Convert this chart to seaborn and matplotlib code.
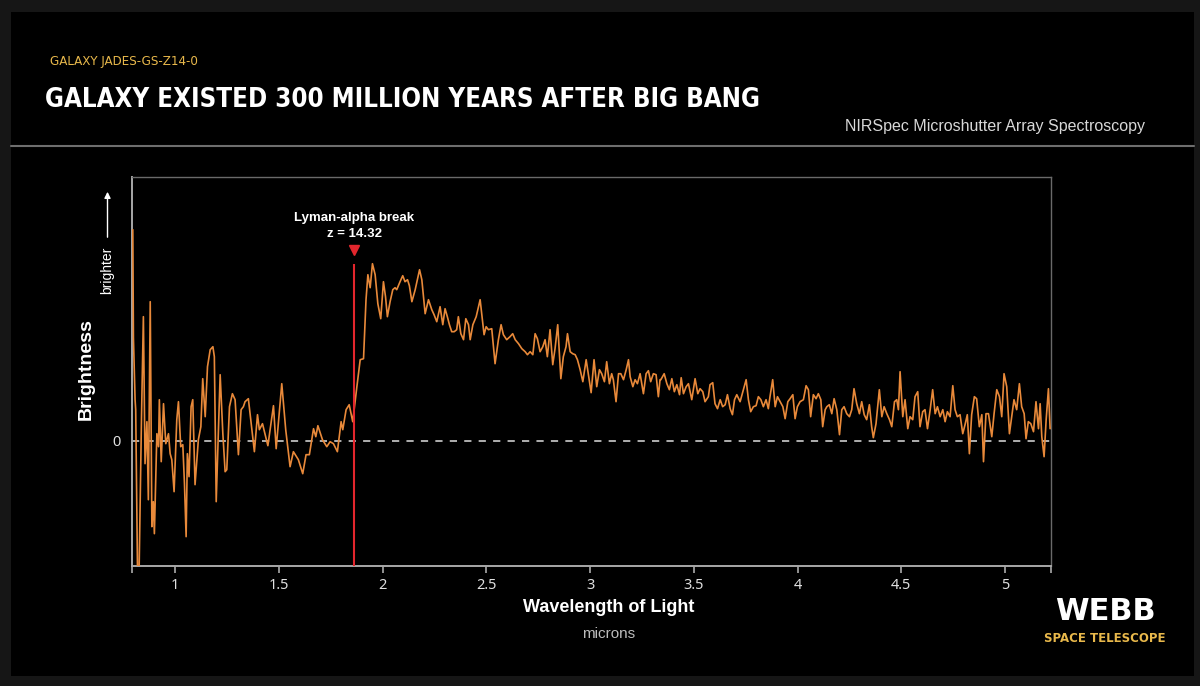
import matplotlib
matplotlib.use("Agg")
import matplotlib.pyplot as plt
from matplotlib.patches import Rectangle
import seaborn as sns

# ---------------------------------------------------
# Data (wavelength in microns, brightness in arbitrary units)
# ---------------------------------------------------
wavelength = [
    0.796, 0.799, 0.807, 0.810, 0.819, 0.826, 0.838, 0.847, 0.855, 0.864,
    0.871, 0.880, 0.888, 0.895, 0.900, 0.912, 0.920, 0.924, 0.933, 0.944,
    0.955, 0.968, 0.976, 0.984, 0.995, 1.008, 1.016, 1.027, 1.037, 1.045,
    1.053, 1.059, 1.067, 1.077, 1.085, 1.096, 1.112, 1.124, 1.133, 1.145,
    1.156, 1.169, 1.182, 1.189, 1.198, 1.217, 1.230, 1.241, 1.249, 1.262,
    1.276, 1.289, 1.305, 1.318, 1.329, 1.337, 1.353, 1.382, 1.397, 1.406,
    1.421, 1.447, 1.474, 1.487, 1.514, 1.533, 1.554, 1.570, 1.594, 1.615,
    1.631, 1.647, 1.667, 1.678, 1.688, 1.710, 1.731, 1.747, 1.763, 1.782,
    1.800, 1.808, 1.824, 1.839, 1.856, 1.876, 1.892, 1.908, 1.920, 1.929,
    1.940, 1.951, 1.964, 1.977, 1.991, 2.004, 2.014, 2.023, 2.036, 2.049,
    2.060, 2.068, 2.084, 2.097, 2.108, 2.120, 2.129, 2.141, 2.157, 2.178,
    2.189, 2.205, 2.221, 2.237, 2.248, 2.261, 2.277, 2.290, 2.301, 2.312,
    2.322, 2.333, 2.345, 2.357, 2.365, 2.377, 2.390, 2.401, 2.414, 2.422,
    2.435, 2.451, 2.470, 2.481, 2.489, 2.499, 2.510, 2.526, 2.542, 2.558,
    2.571, 2.582, 2.598, 2.614, 2.627, 2.639, 2.655, 2.671, 2.687, 2.698,
    2.711, 2.724, 2.735, 2.746, 2.759, 2.772, 2.783, 2.794, 2.807, 2.820,
    2.831, 2.844, 2.859, 2.871, 2.884, 2.891, 2.904, 2.916, 2.928, 2.939,
    2.952, 2.965, 2.981, 2.992, 3.005, 3.019, 3.032, 3.045, 3.056, 3.069,
    3.080, 3.093, 3.104, 3.112, 3.125, 3.137, 3.148, 3.161, 3.174, 3.185,
    3.193, 3.206, 3.217, 3.228, 3.241, 3.257, 3.270, 3.281, 3.292, 3.305,
    3.318, 3.329, 3.337, 3.341, 3.357, 3.370, 3.382, 3.394, 3.406, 3.418,
    3.431, 3.439, 3.450, 3.463, 3.474, 3.490, 3.506, 3.519, 3.530, 3.543,
    3.554, 3.570, 3.578, 3.591, 3.602, 3.614, 3.627, 3.639, 3.651, 3.662,
    3.675, 3.686, 3.696, 3.707, 3.723, 3.739, 3.752, 3.763, 3.774, 3.787,
    3.800, 3.811, 3.823, 3.835, 3.848, 3.859, 3.867, 3.880, 3.892, 3.903,
    3.916, 3.929, 3.940, 3.953, 3.964, 3.977, 3.988, 3.999, 4.012, 4.028,
    4.041, 4.052, 4.063, 4.076, 4.089, 4.100, 4.112, 4.121, 4.133, 4.141,
    4.153, 4.165, 4.176, 4.189, 4.202, 4.213, 4.224, 4.237, 4.250, 4.261,
    4.272, 4.285, 4.298, 4.309, 4.321, 4.333, 4.346, 4.357, 4.365, 4.378,
    4.394, 4.406, 4.417, 4.430, 4.443, 4.454, 4.467, 4.478, 4.486, 4.494,
    4.507, 4.518, 4.531, 4.542, 4.555, 4.566, 4.579, 4.590, 4.603, 4.614,
    4.626, 4.639, 4.651, 4.663, 4.674, 4.687, 4.700, 4.711, 4.722, 4.735,
    4.748, 4.759, 4.770, 4.783, 4.796, 4.807, 4.818, 4.828, 4.839, 4.852,
    4.863, 4.876, 4.888, 4.896, 4.908, 4.920, 4.936, 4.947, 4.960, 4.973,
    4.984, 4.995, 5.008, 5.021, 5.032, 5.043, 5.056, 5.069, 5.080, 5.092,
    5.101, 5.112, 5.124, 5.137, 5.149, 5.161, 5.169, 5.177, 5.188, 5.198,
    5.209, 5.217,
]
brightness = [
    2.11, 1.03, 0.41, 0.31, -1.35, -1.35, 0.24, 1.24, -0.23, 0.19,
    -0.59, 1.39, -0.86, -0.61, -0.93, 0.07, -0.06, 0.41, -0.21, 0.37,
    -0.03, 0.07, -0.13, -0.19, -0.51, 0.21, 0.39, -0.06, -0.04, -0.43,
    -0.96, -0.13, -0.36, 0.34, 0.41, -0.44, 0.01, 0.14, 0.62, 0.24,
    0.74, 0.91, 0.94, 0.84, -0.61, 0.66, 0.07, -0.31, -0.29, 0.34,
    0.47, 0.41, -0.14, 0.31, 0.34, 0.39, 0.42, -0.11, 0.26, 0.11,
    0.17, -0.05, 0.35, -0.08, 0.57, 0.11, -0.26, -0.11, -0.19, -0.33,
    -0.14, -0.14, 0.12, 0.04, 0.15, 0.01, -0.06, -0.01, -0.03, -0.11,
    0.19, 0.11, 0.31, 0.36, 0.19, 0.54, 0.81, 0.82, 1.41, 1.66,
    1.53, 1.77, 1.66, 1.37, 1.22, 1.59, 1.44, 1.24, 1.39, 1.51,
    1.53, 1.51, 1.59, 1.65, 1.59, 1.61, 1.55, 1.39, 1.51, 1.71,
    1.61, 1.27, 1.41, 1.31, 1.26, 1.19, 1.34, 1.16, 1.32, 1.24,
    1.16, 1.09, 1.09, 1.11, 1.24, 1.07, 1.01, 1.22, 1.16, 1.01,
    1.16, 1.24, 1.41, 1.21, 1.06, 1.14, 1.11, 1.12, 0.77, 1.01,
    1.16, 1.06, 1.01, 1.04, 1.07, 1.01, 0.97, 0.92, 0.89, 0.86,
    0.89, 0.86, 1.07, 1.02, 0.89, 0.94, 1.01, 0.84, 1.11, 0.76,
    0.92, 1.16, 0.62, 0.84, 0.94, 1.07, 0.89, 0.87, 0.86, 0.81,
    0.71, 0.59, 0.81, 0.66, 0.48, 0.81, 0.54, 0.71, 0.67, 0.59,
    0.79, 0.57, 0.67, 0.61, 0.39, 0.67, 0.67, 0.61, 0.71, 0.81,
    0.64, 0.54, 0.61, 0.57, 0.67, 0.47, 0.67, 0.70, 0.59, 0.67,
    0.66, 0.44, 0.61, 0.61, 0.67, 0.57, 0.51, 0.62, 0.49, 0.56,
    0.46, 0.63, 0.47, 0.54, 0.57, 0.41, 0.62, 0.47, 0.52, 0.49,
    0.39, 0.44, 0.56, 0.58, 0.37, 0.32, 0.41, 0.34, 0.36, 0.46,
    0.32, 0.26, 0.41, 0.46, 0.39, 0.51, 0.61, 0.41, 0.29, 0.34,
    0.35, 0.44, 0.41, 0.34, 0.41, 0.32, 0.44, 0.61, 0.34, 0.44,
    0.39, 0.34, 0.22, 0.39, 0.42, 0.46, 0.22, 0.34, 0.39, 0.41,
    0.55, 0.51, 0.24, 0.46, 0.42, 0.47, 0.41, 0.14, 0.31, 0.34,
    0.36, 0.27, 0.42, 0.31, 0.06, 0.31, 0.34, 0.27, 0.24, 0.31,
    0.52, 0.37, 0.27, 0.39, 0.26, 0.21, 0.36, 0.14, 0.03, 0.17,
    0.51, 0.24, 0.34, 0.27, 0.21, 0.14, 0.39, 0.41, 0.31, 0.69,
    0.24, 0.41, 0.12, 0.24, 0.21, 0.44, 0.49, 0.14, 0.29, 0.31,
    0.12, 0.31, 0.51, 0.27, 0.34, 0.24, 0.31, 0.19, 0.29, 0.24,
    0.55, 0.31, 0.24, 0.26, 0.07, 0.16, 0.26, -0.13, 0.26, 0.44,
    0.42, 0.14, 0.26, -0.21, 0.27, 0.27, 0.04, 0.27, 0.51, 0.44,
    0.24, 0.67, 0.54, 0.07, 0.24, 0.41, 0.31, 0.57, 0.34, 0.27,
    0.02, 0.19, 0.17, 0.09, 0.39, 0.12, 0.37, 0.04, -0.16, 0.21,
    0.52, 0.12,
]

x_ticks = [1, 1.5, 2, 2.5, 3, 3.5, 4, 4.5, 5]
x_tick_labels = ["1", "1.5", "2", "2.5", "3", "3.5", "4", "4.5", "5"]

lyman_break = 1.863
lyman_label = "Lyman-alpha break"
redshift_label = "z = 14.32"

# ---------------------------------------------------
# Style
# ---------------------------------------------------
sns.set_theme(style="dark")
plt.rcParams["font.family"] = ["Liberation Sans", "DejaVu Sans"]
tick_font = ["Noto Sans", "DejaVu Sans"]
head_font = ["DejaVu Sans"]

gold = "#e8b84b"
orange = "#e8893a"
red = "#e3262d"

fig = plt.figure(figsize=(12, 6.86), dpi=100, facecolor="#161616")
fig.add_artist(Rectangle((0.0092, 0.0146), 0.986, 0.968, transform=fig.transFigure,
                         facecolor="black", edgecolor="none", zorder=-10))

ax = fig.add_axes([0.1098, 0.1754, 0.7658, 0.5670])
ax.set_facecolor("black")

# spectrum
sns.lineplot(x=wavelength, y=brightness, ax=ax, color=orange, linewidth=1.2,
             estimator=None, sort=False, zorder=3)

# zero line
ax.axhline(0, color="#bdbdbd", linewidth=1.3, dashes=(4, 4), zorder=2)

# Lyman-alpha break marker
ax.vlines(lyman_break, -1.25, 1.77, color=red, linewidth=1.5, zorder=4)
ax.plot([lyman_break], [1.91], marker="v", color=red, markersize=7, linestyle="none")
ax.text(lyman_break, 2.23, lyman_label, ha="center", va="center", color="white",
        fontsize=9.5, fontweight="bold")
ax.text(lyman_break, 2.07, redshift_label, ha="center", va="center", color="white",
        fontsize=9.5, fontweight="bold")

ax.set_xlim(0.791, 5.22)
ax.set_ylim(-1.25, 2.64)

ax.set_xticks(x_ticks)
ax.set_xticklabels(x_tick_labels, family=tick_font)
ax.set_xticks([0.791, 5.22], minor=True)
ax.tick_params(axis="x", which="both", direction="out", length=5, width=1.2,
               color="#aaaaaa", labelcolor="#e0e0e0", labelsize=10.5, pad=4, bottom=True)
ax.set_yticks([0])
ax.set_yticklabels(["0"])
ax.tick_params(axis="y", length=0, labelcolor="#e0e0e0", labelsize=10.5, pad=8)
ax.grid(False)

for side in ["top", "right"]:
    ax.spines[side].set_color("#6a6a6a")
    ax.spines[side].set_linewidth(1)
for side in ["left", "bottom"]:
    ax.spines[side].set_color("#a8a8a8")
    ax.spines[side].set_linewidth(1.4)
for side in ax.spines:
    ax.spines[side].set_visible(True)

# axis labels
fig.text(86 / 1200, 1 - 369 / 686, "Brightness", rotation=90, ha="center", va="center",
         color="white", fontsize=14, fontweight="bold")
fig.text(107.5 / 1200, 1 - 270 / 686, "brighter", rotation=90, ha="center", va="center",
         color="white", fontsize=10)
fig.add_artist(plt.Annotation("", xy=(107.5 / 1200, 1 - 189 / 686),
                              xytext=(107.5 / 1200, 1 - 240 / 686),
                              xycoords="figure fraction",
                              arrowprops=dict(arrowstyle="-|>", color="white", lw=1,
                                              mutation_scale=9)))
fig.text(609 / 1200, 1 - 608 / 686, "Wavelength of Light", ha="center", va="center",
         color="white", fontsize=13, fontweight="bold")
fig.text(609 / 1200, 1 - 634 / 686, "microns", ha="center", va="center",
         color="#bdbdbd", fontsize=11)

# header
fig.text(50 / 1200, 1 - 62 / 686, "GALAXY JADES-GS-Z14-0", ha="left", va="center",
         color=gold, fontsize=9.5, family=head_font, fontstretch="condensed")
fig.text(45 / 1200, 1 - 100 / 686, "GALAXY EXISTED 300 MILLION YEARS AFTER BIG BANG",
         ha="left", va="center", color="white", fontsize=18.5, fontweight="bold",
         family=head_font, fontstretch="condensed")
fig.text(1145 / 1200, 1 - 127 / 686, "NIRSpec Microshutter Array Spectroscopy",
         ha="right", va="center", color="#d8d8d8", fontsize=11.5)
fig.add_artist(plt.Line2D([0.0092, 0.995], [1 - 146 / 686, 1 - 146 / 686],
                          transform=fig.transFigure, color="#6e6e6e", linewidth=1.5))

# logo
fig.text(1105 / 1200, 1 - 611 / 686, "WEBB", ha="center", va="center", color="white",
         fontsize=22, fontweight="heavy", family=head_font)
fig.text(1105 / 1200, 1 - 638 / 686, "SPACE TELESCOPE", ha="center", va="center",
         color=gold, fontsize=8.5, fontweight="bold", family=head_font)

fig.savefig("out.png", dpi=100, facecolor=fig.get_facecolor())
